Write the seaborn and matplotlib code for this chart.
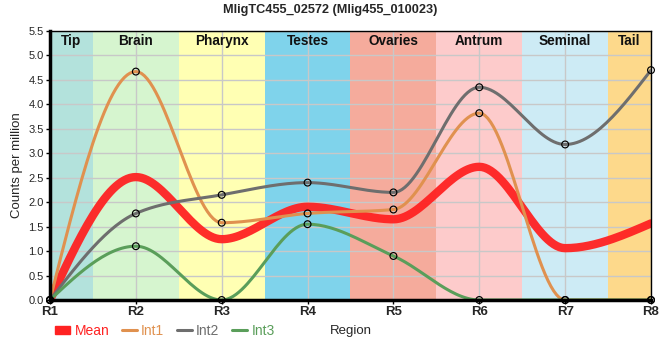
import numpy as np
import pandas as pd
import matplotlib
matplotlib.use("Agg")
import matplotlib.pyplot as plt
import seaborn as sns
from matplotlib.patches import Patch
from matplotlib.lines import Line2D

# ---- data ----
title = "MligTC455_02572 (Mlig455_010023)"
regions = ["R1", "R2", "R3", "R4", "R5", "R6", "R7", "R8"]
int1 = [0.0, 4.67, 1.58, 1.77, 1.85, 3.82, 0.0, 0.0]
int2 = [0.0, 1.77, 2.15, 2.40, 2.20, 4.35, 3.18, 4.70]
int3 = [0.0, 1.10, 0.0, 1.55, 0.90, 0.0, 0.0, 0.0]
tissues = ["Tip", "Brain", "Pharynx", "Testes", "Ovaries", "Antrum", "Seminal", "Tail"]
tissue_colors = ["#b3e2dc", "#d6f5cf", "#ffffb3", "#7fd3eb", "#f5ab9c", "#fdcbcb", "#cdebf5", "#fdd98b"]
series_names = ["Int1", "Int2", "Int3"]
series_colors = {"Mean": "#ff2222", "Int1": "#e0914f", "Int2": "#6e6e6e", "Int3": "#5a9e5a"}

mean = list(np.mean([int1, int2, int3], axis=0))


def monotone_curve(xs, ys, n=30):
    """Monotone cubic (d3 curveMonotoneX style) rendering of a polyline."""
    xs = np.asarray(xs, float); ys = np.asarray(ys, float)
    m = len(xs)
    h = np.diff(xs); s = np.diff(ys) / h
    t = np.zeros(m)
    for i in range(1, m - 1):
        p = (s[i - 1] * h[i] + s[i] * h[i - 1]) / (h[i - 1] + h[i])
        t[i] = (np.sign(s[i - 1]) + np.sign(s[i])) * min(abs(s[i - 1]), abs(s[i]), 0.5 * abs(p))
    t[0] = (3 * s[0] - t[1]) / 2
    t[-1] = (3 * s[-1] - t[-2]) / 2
    out_x, out_y = [], []
    for i in range(m - 1):
        u = np.linspace(0, 1, n, endpoint=(i == m - 2))
        x0, x1 = xs[i], xs[i + 1]; y0, y1 = ys[i], ys[i + 1]
        dx = (x1 - x0) / 3
        p0 = (x0, y0); p1 = (x0 + dx, y0 + dx * t[i]); p2 = (x1 - dx, y1 - dx * t[i + 1]); p3 = (x1, y1)
        bx = (1 - u) ** 3 * p0[0] + 3 * (1 - u) ** 2 * u * p1[0] + 3 * (1 - u) * u ** 2 * p2[0] + u ** 3 * p3[0]
        by = (1 - u) ** 3 * p0[1] + 3 * (1 - u) ** 2 * u * p1[1] + 3 * (1 - u) * u ** 2 * p2[1] + u ** 3 * p3[1]
        out_x.extend(bx); out_y.extend(by)
    return np.array(out_x), np.array(out_y)


sns.set_theme(style="white")
plt.rcParams["font.family"] = ["Liberation Sans", "DejaVu Sans"]

fig = plt.figure(figsize=(6.6, 3.6), dpi=100)
ax = fig.add_axes([50 / 660, 60 / 360, 601 / 660, 269 / 360])

xpos = np.arange(len(regions))

# background bands
edges = [0, 0.5, 1.5, 2.5, 3.5, 4.5, 5.5, 6.5, 7]
for i, (name, col) in enumerate(zip(tissues, tissue_colors)):
    ax.axvspan(edges[i], edges[i + 1], color=col, lw=0, zorder=0)
    ax.text((edges[i] + edges[i + 1]) / 2, 5.30, name, ha="center", va="center",
            fontsize=9.8, fontweight="bold", color="#111111", zorder=5)

for yv in np.arange(0, 5.51, 0.5):
    ax.axhline(yv, color="#c8c8c8", lw=1, zorder=1)
for xv in xpos:
    ax.axvline(xv, color="#c8c8c8", lw=1, zorder=1)

# mean curve
cx, cy = monotone_curve(xpos, mean)
sns.lineplot(x=cx, y=cy, ax=ax, color=series_colors["Mean"], lw=6.0, alpha=0.95,
             sort=False, estimator=None, zorder=2)

for name, vals in zip(series_names, [int1, int2, int3]):
    cx, cy = monotone_curve(xpos, vals)
    sns.lineplot(x=cx, y=cy, ax=ax, color=series_colors[name], lw=2.2, sort=False,
                 estimator=None, zorder=3)

for name, vals in zip(series_names, [int1, int2, int3]):
    ax.scatter(xpos, vals, s=24, facecolors="none", edgecolors="black",
               linewidths=0.85, zorder=6, clip_on=False)

ax.set_xlim(0, 7)
ax.set_ylim(0, 5.5)
ax.set_xticks(xpos)
ax.set_xticklabels(regions, fontsize=9.5, fontweight="bold")
ax.set_yticks(np.arange(0, 5.51, 0.5))
ax.set_yticklabels([f"{v:.1f}" for v in np.arange(0, 5.51, 0.5)], fontsize=8)
ax.tick_params(axis="both", which="both", length=3, width=1, color="black", pad=1.5,
               bottom=True, left=True)
ax.set_xlabel("Region", fontsize=9.5, labelpad=5)
ax.set_ylabel("Counts per million", fontsize=9.5, labelpad=4)

for side in ["top", "right"]:
    ax.spines[side].set_color("black"); ax.spines[side].set_linewidth(1)
for side in ["left", "bottom"]:
    ax.spines[side].set_color("black"); ax.spines[side].set_linewidth(2.5)
    ax.spines[side].set_zorder(7)

fig.suptitle(title, x=0.5, y=1 - 10 / 360, va="center", fontsize=9.2, fontweight="bold")

handles = [Patch(color=series_colors["Mean"], label="Mean")]
handles += [Line2D([0], [0], color=series_colors[n], lw=2.2, label=n) for n in series_names]
leg = fig.legend(handles=handles, loc="center left", bbox_to_anchor=(55 / 660, 29 / 360), ncol=4,
                 frameon=False, fontsize=10, handlelength=1.1, handleheight=0.55,
                 handletextpad=0.3, columnspacing=0.9, borderaxespad=0, borderpad=0)
for txt, h in zip(leg.get_texts(), ["Mean"] + series_names):
    txt.set_color(series_colors[h])

fig.savefig("out.png", dpi=100)
